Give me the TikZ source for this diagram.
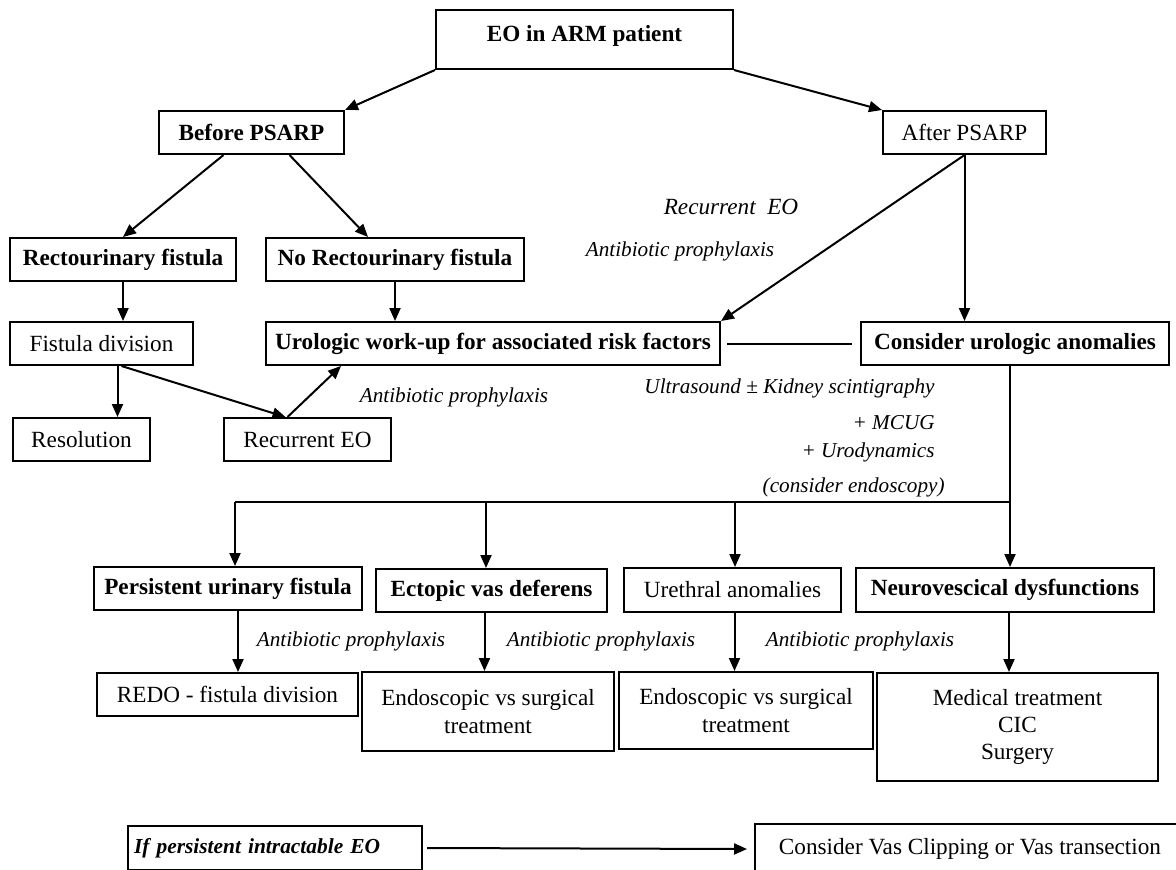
\documentclass[tikz,border=0pt]{standalone}
\usepackage{fontspec}
\setmainfont{Liberation Serif}
\usetikzlibrary{arrows.meta}

\tikzset{
  flowbox/.style={draw, line width=1pt, align=center, inner sep=2pt, font=\fontsize{11.6}{13.6}\selectfont},
  boldbox/.style={flowbox, font=\fontsize{11.6}{13.6}\selectfont\bfseries},
  note/.style={inner sep=0pt, font=\fontsize{10.6}{13}\selectfont\itshape},
  arr/.style={line width=1pt, -{Triangle[length=6.5pt, width=5.5pt]}},
  link/.style={line width=1pt}
}

\begin{document}
\begin{tikzpicture}[x=0.5pt, y=-0.5pt]
  \useasboundingbox (0,0) rectangle (1176,869);
  \clip (0,0) rectangle (1176,869);

  % Top of the tree
  \node[boldbox, minimum width=148.5pt, minimum height=29.5pt, text depth=6pt] (eo) at (584.5,39.5) {EO in ARM patient};
  \node[boldbox, minimum width=92.5pt, minimum height=21.5pt] (before) at (251.5,132.5) {Before PSARP};
  \node[flowbox, minimum width=81.5pt, minimum height=21.5pt] (after) at (964.5,132.5) {After PSARP};

  % Before PSARP branch
  \node[boldbox, minimum width=113pt, minimum height=21.5pt] (rectfist) at (123,259.5) {Rectourinary fistula};
  \node[boldbox, minimum width=129pt, minimum height=21.5pt] (norect) at (395,259.5) {No Rectourinary fistula};
  \node[flowbox, minimum width=91.5pt, minimum height=21.5pt] (fistdiv) at (101.5,343.5) {Fistula division};
  \node[boldbox, minimum width=227pt, minimum height=21.5pt] (workup) at (493,343.5) {Urologic work-up for associated risk factors};
  \node[boldbox, minimum width=154pt, minimum height=21.5pt] (consider) at (1015,343.5) {Consider urologic anomalies};
  \node[flowbox, minimum width=68.5pt, minimum height=21.5pt] (resol) at (81.5,439.5) {Resolution};
  \node[flowbox, minimum width=83.5pt, minimum height=21.5pt] (recur) at (307.5,439.5) {Recurrent EO};

  % Anomalies
  \node[boldbox, minimum width=134pt, minimum height=21.5pt] (persist) at (228,588.5) {Persistent urinary fistula};
  \node[boldbox, minimum width=115.5pt, minimum height=21.5pt] (ectopic) at (491.5,590.5) {Ectopic vas deferens};
  \node[flowbox, minimum width=108.5pt, minimum height=22pt] (urethral) at (732.5,590) {Urethral anomalies};
  \node[boldbox, minimum width=149pt, minimum height=22pt] (neuro) at (1005,590) {Neurovescical dysfunctions};

  % Treatments
  \node[flowbox, minimum width=130.5pt, minimum height=21.5pt] (redo) at (227.5,694.5) {REDO - fistula division};
  \node[flowbox, minimum width=126pt, minimum height=39.5pt] (endoa) at (488,711.5) {Endoscopic vs surgical\\treatment};
  \node[flowbox, minimum width=127pt, minimum height=38.5pt] (endob) at (746,710.5) {Endoscopic vs surgical\\treatment};
  \node[flowbox, minimum width=140.5pt, minimum height=54pt] (medical) at (1017.5,727) {Medical treatment\\CIC\\Surgery};

  % Last resort
  \node[flowbox, text width=141pt, inner xsep=3pt, align=left, minimum height=22pt, font=\fontsize{10.7}{13}\selectfont\bfseries\itshape] (ifpers) at (275,848) {If persistent intractable EO};
  \node[flowbox, minimum width=215pt, minimum height=25pt, anchor=north west] (vas) at (754,823) {Consider Vas Clipping or Vas transection};

  % Labels
  \node[note, font=\fontsize{11.6}{13}\selectfont\itshape] (recurlbl) at (731,207) {Recurrent\ \ EO};
  \node[note] (abxa) at (680,251) {Antibiotic prophylaxis};
  \node[note] (abxb) at (454,397) {Antibiotic prophylaxis};
  \node[note, anchor=east] (ultra) at (935,388) {Ultrasound ± Kidney scintigraphy};
  \node[note, anchor=east] (mcug) at (935,423) {+ MCUG};
  \node[note, anchor=east] (urody) at (935,452) {+ Urodynamics};
  \node[note, anchor=east] (endosc) at (945,487) {(consider endoscopy)};
  \node[note] (abxc) at (351,641) {Antibiotic prophylaxis};
  \node[note] (abxd) at (601,641) {Antibiotic prophylaxis};
  \node[note] (abxe) at (860,641) {Antibiotic prophylaxis};

  % Connectors
  \draw[arr] (eo.south west) -- (before.north east);
  \draw[arr] (eo.south east) -- (after.north west);
  \draw[arr] ([xshift=-14pt]before.south) -- (rectfist.north);
  \draw[arr] ([xshift=19pt]before.south) -- ([xshift=-13.5pt]norect.north);
  \draw[arr] (after.south) -- (workup.north east);
  \draw[arr] (after.south) -- (after.south |- consider.north);
  \draw[arr] (rectfist.south) -- (rectfist.south |- fistdiv.north);
  \draw[arr] (norect.south) -- (norect.south |- workup.north);
  \draw[arr] ([xshift=8pt]fistdiv.south) -- ([xshift=8pt]fistdiv.south |- resol.north);
  \draw[arr] ([xshift=10pt]fistdiv.south) -- ([xshift=-11pt]recur.north);
  \draw[arr] ([xshift=-10pt]recur.north) -- ([xshift=-76pt]workup.south);
  \draw[link] ([xshift=3pt]workup.east) -- ([xshift=-4pt]consider.west);

  \coordinate (hub) at (1010,502);
  \coordinate (dropa) at (235,502);
  \coordinate (dropb) at (486,502);
  \coordinate (dropc) at (735,502);
  \draw[link] (consider.south -| hub) -- (hub) -- (dropa);
  \draw[arr] (dropa) -- (dropa |- persist.north);
  \draw[arr] (dropb) -- (dropb |- ectopic.north);
  \draw[arr] (dropc) -- (dropc |- urethral.north);
  \draw[arr] (hub) -- (hub |- neuro.north);

  \draw[arr] ([xshift=5pt]persist.south) -- ([xshift=5pt]persist.south |- redo.north);
  \draw[arr] ([xshift=-3.5pt]ectopic.south) -- ([xshift=-3.5pt]ectopic.south |- endoa.north);
  \draw[arr] ([xshift=1pt]urethral.south) -- ([xshift=1pt]urethral.south |- endob.north);
  \draw[arr] ([xshift=2pt]neuro.south) -- ([xshift=2pt]neuro.south |- medical.north);
  \draw[arr] ([xshift=2pt]ifpers.east) -- ([xshift=-3.5pt]vas.west);
\end{tikzpicture}
\end{document}
